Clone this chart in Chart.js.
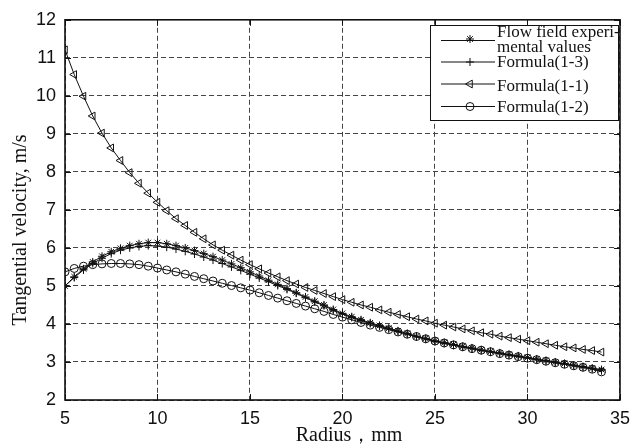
<!DOCTYPE html>
<html>
<head>
<meta charset="utf-8">
<script src="https://cdn.jsdelivr.net/npm/chart.js@4"></script>
<style>
  html, body { margin: 0; padding: 0; background: #fff; }
  #wrap { width: 638px; height: 448px; }
</style>
</head>
<body>
<div id="wrap"><canvas id="velChart" width="638" height="448"></canvas></div>
<script>
// radius, mm (sample points every 0.5 mm)
const radius = [5, 5.5, 6, 6.5, 7, 7.5, 8, 8.5, 9, 9.5, 10, 10.5, 11, 11.5, 12, 12.5, 13, 13.5, 14, 14.5,
    15, 15.5, 16, 16.5, 17, 17.5, 18, 18.5, 19, 19.5, 20, 20.5, 21, 21.5, 22, 22.5, 23, 23.5, 24, 24.5,
    25, 25.5, 26, 26.5, 27, 27.5, 28, 28.5, 29, 29.5, 30, 30.5, 31, 31.5, 32, 32.5, 33, 33.5, 34];

// tangential velocity, m/s
const experimental = [5.00, 5.24, 5.45, 5.63, 5.78, 5.90, 5.99, 6.06, 6.11, 6.14, 6.14, 6.11, 6.06, 6.00, 5.93, 5.85, 5.77, 5.68, 5.58, 5.48,
    5.37, 5.26, 5.15, 5.04, 4.93, 4.82, 4.71, 4.60, 4.50, 4.38, 4.28, 4.19, 4.11, 4.03, 3.96, 3.89, 3.82, 3.75, 3.68, 3.62,
    3.56, 3.51, 3.46, 3.41, 3.37, 3.32, 3.28, 3.24, 3.20, 3.16, 3.12, 3.08, 3.04, 3.00, 2.96, 2.92, 2.88, 2.84, 2.80];
const formula13 = [5.00, 5.22, 5.42, 5.59, 5.73, 5.85, 5.94, 6.00, 6.04, 6.06, 6.05, 6.02, 5.97, 5.91, 5.84, 5.76, 5.68, 5.59, 5.50, 5.41,
    5.31, 5.21, 5.11, 5.01, 4.91, 4.81, 4.69, 4.58, 4.48, 4.36, 4.26, 4.17, 4.09, 4.01, 3.94, 3.87, 3.80, 3.73, 3.66, 3.60,
    3.54, 3.49, 3.44, 3.39, 3.35, 3.30, 3.26, 3.22, 3.18, 3.14, 3.10, 3.06, 3.02, 2.98, 2.94, 2.90, 2.86, 2.82, 2.77];
const formula11 = [11.21, 10.56, 9.99, 9.47, 9.02, 8.63, 8.30, 7.98, 7.70, 7.44, 7.20, 6.98, 6.77, 6.59, 6.41, 6.24, 6.08, 5.94, 5.81, 5.68,
    5.56, 5.45, 5.34, 5.24, 5.14, 5.05, 4.96, 4.88, 4.80, 4.72, 4.64, 4.57, 4.50, 4.44, 4.37, 4.31, 4.25, 4.19, 4.13, 4.08,
    4.02, 3.97, 3.92, 3.87, 3.82, 3.77, 3.73, 3.68, 3.64, 3.60, 3.56, 3.52, 3.48, 3.44, 3.40, 3.37, 3.33, 3.30, 3.26];
const formula12 = [5.37, 5.46, 5.52, 5.56, 5.58, 5.59, 5.59, 5.58, 5.56, 5.52, 5.47, 5.42, 5.37, 5.31, 5.25, 5.19, 5.13, 5.07, 5.01, 4.95,
    4.89, 4.82, 4.75, 4.68, 4.61, 4.54, 4.47, 4.40, 4.33, 4.25, 4.18, 4.11, 4.04, 3.97, 3.91, 3.85, 3.79, 3.73, 3.67, 3.61,
    3.55, 3.50, 3.45, 3.40, 3.35, 3.31, 3.27, 3.22, 3.18, 3.14, 3.10, 3.06, 3.02, 2.98, 2.94, 2.90, 2.86, 2.81, 2.74];

const xTicks = [5, 10, 15, 20, 25, 30, 35];
const yTicks = [2, 3, 4, 5, 6, 7, 8, 9, 10, 11, 12];
const seriesLabels = ['Flow field experi-\nmental values', 'Formula(1-3)', 'Formula(1-1)', 'Formula(1-2)'];
const xTitle = 'Radius，mm';
const yTitle = 'Tangential velocity, m/s';

const SANS = '"Liberation Sans", Arial, sans-serif';
const SERIF = '"Liberation Serif", "Times New Roman", serif';

function pts(ys) {
    return radius.map((r, i) => ({ x: r, y: ys[i] }));
}

const markers = [
    { style: 'star', rot: 0, r: 4 },
    { style: 'cross', rot: 0, r: 4 },
    { style: 'triangle', rot: -90, r: 4.5 },
    { style: 'circle', rot: 0, r: 4 }
];

// simple marker painter for the legend keys
function drawMarker(ctx, m, x, y) {
    ctx.beginPath();
    const r = m.r;
    if (m.style === 'circle') {
        ctx.arc(x, y, r, 0, Math.PI * 2);
    } else if (m.style === 'triangle') {
        ctx.moveTo(x - r, y);
        ctx.lineTo(x + r * 0.5, y - r * 0.87);
        ctx.lineTo(x + r * 0.5, y + r * 0.87);
        ctx.closePath();
    } else {
        ctx.moveTo(x - r, y); ctx.lineTo(x + r, y);
        ctx.moveTo(x, y - r); ctx.lineTo(x, y + r);
        if (m.style === 'star') {
            const d = r * 0.707;
            ctx.moveTo(x - d, y - d); ctx.lineTo(x + d, y + d);
            ctx.moveTo(x - d, y + d); ctx.lineTo(x + d, y - d);
        }
    }
    ctx.stroke();
}

const matlabFrame = {
    id: 'matlabFrame',
    afterDraw(chart) {
        const ctx = chart.ctx;
        const a = chart.chartArea;
        const xs = chart.scales.x, ys = chart.scales.y;
        ctx.save();
        ctx.strokeStyle = '#111';
        ctx.lineWidth = 1;
        ctx.setLineDash([]);
        // inward ticks on all four sides
        ctx.beginPath();
        xTicks.forEach(v => {
            const px = Math.round(xs.getPixelForValue(v)) + 0.5;
            ctx.moveTo(px, a.bottom); ctx.lineTo(px, a.bottom - 6);
            ctx.moveTo(px, a.top); ctx.lineTo(px, a.top + 6);
        });
        yTicks.forEach(v => {
            const py = Math.round(ys.getPixelForValue(v)) + 0.5;
            ctx.moveTo(a.left, py); ctx.lineTo(a.left + 6, py);
            ctx.moveTo(a.right, py); ctx.lineTo(a.right - 6, py);
        });
        ctx.stroke();
        // box
        ctx.lineWidth = 1.6;
        ctx.strokeRect(a.left, a.top, a.right - a.left, a.bottom - a.top);

        // axis titles
        ctx.fillStyle = '#111';
        ctx.font = '20px ' + SERIF;
        ctx.textAlign = 'center';
        ctx.textBaseline = 'middle';
        ctx.fillText(xTitle, 349, 436);
        ctx.save();
        ctx.translate(21, 230);
        ctx.rotate(-Math.PI / 2);
        ctx.fillText(yTitle, 0, 0);
        ctx.restore();

        // legend box
        const bx = 430.5, by = 25.5, bw = 188, bh = 95;
        ctx.fillStyle = '#fff';
        ctx.fillRect(bx, by, bw, bh);
        ctx.lineWidth = 1;
        ctx.strokeStyle = '#111';
        ctx.strokeRect(bx, by, bw, bh);
        const keyY = [40.5, 62, 84, 106.5];
        const textY = [[33, 48], [63], [86.5], [108]];
        ctx.font = '17px ' + SERIF;
        ctx.textAlign = 'left';
        ctx.textBaseline = 'middle';
        seriesLabels.forEach((lab, i) => {
            ctx.strokeStyle = '#111';
            ctx.lineWidth = 1;
            ctx.beginPath();
            ctx.moveTo(441, keyY[i]); ctx.lineTo(495, keyY[i]);
            ctx.stroke();
            drawMarker(ctx, markers[i], 470, keyY[i] - (i === 0 ? 1.5 : 0));
            ctx.fillStyle = '#111';
            lab.split('\n').forEach((line, j) => ctx.fillText(line, 497, textY[i][j]));
        });
        ctx.restore();
    }
};

const datasets = [experimental, formula13, formula11, formula12].map((ys, i) => ({
    label: seriesLabels[i].replace('\n', ''),
    data: pts(ys),
    borderColor: '#111',
    borderWidth: 1,
    backgroundColor: 'rgba(0,0,0,0)',
    pointStyle: markers[i].style,
    pointRotation: markers[i].rot,
    pointRadius: markers[i].r,
    pointBorderColor: '#111',
    pointBorderWidth: 1,
    pointBackgroundColor: 'rgba(0,0,0,0)',
    tension: 0,
    fill: false
}));

new Chart(document.getElementById('velChart'), {
    type: 'line',
    data: { datasets },
    plugins: [matlabFrame],
    options: {
        responsive: false,
        animation: false,
        devicePixelRatio: 1,
        layout: { padding: { top: 18, right: 13, left: 0, bottom: 0 } },
        plugins: { legend: { display: false }, tooltip: { enabled: false } },
        scales: {
            x: {
                type: 'linear',
                min: 5, max: 35,
                afterFit: s => { s.height = 48; },
                afterBuildTicks: s => { s.ticks = xTicks.map(v => ({ value: v })); },
                grid: { color: '#444', lineWidth: 1, drawTicks: false },
                border: { display: false, dash: [5, 3] },
                ticks: { padding: 8, color: '#111', font: { family: SANS, size: 18 }, maxRotation: 0 }
            },
            y: {
                type: 'linear',
                min: 2, max: 12,
                afterFit: s => { s.width = 65; },
                afterBuildTicks: s => { s.ticks = yTicks.map(v => ({ value: v })); },
                grid: { color: '#444', lineWidth: 1, drawTicks: false },
                border: { display: false, dash: [5, 3] },
                ticks: { padding: 9, color: '#111', font: { family: SANS, size: 18 } }
            }
        }
    }
});
</script>
</body>
</html>
